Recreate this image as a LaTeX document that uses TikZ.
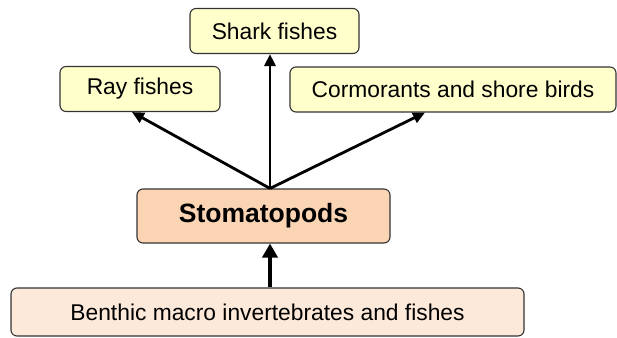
\documentclass[tikz,border=0pt]{standalone}
\usepackage{fontspec}
\setmainfont{Liberation Sans}
\usetikzlibrary{positioning, arrows.meta}

\definecolor{preyyellow}{HTML}{FFFFCC}
\definecolor{stomapeach}{HTML}{FBD4B4}
\definecolor{benthpink}{HTML}{FDE9D9}

\begin{document}
\begin{tikzpicture}[x=1pt,y=-1pt]
\tikzset{
  every node/.style={inner sep=0pt, font=\fontsize{22.8}{26}\selectfont},
  box/.style={draw=black!80, line width=1.1pt, rounded corners=6pt, minimum height=45pt},
  predbox/.style={box, fill=preyyellow},
  feed/.style={line width=2.8pt, -{Triangle[length=12pt,width=11pt]}},
  feedbig/.style={line width=4.5pt, -{Triangle[length=14pt,width=15pt]}}
}
\useasboundingbox (0,0) rectangle (617,337);
\node [predbox, minimum width=169pt] (shark) at (274.5,31) {Shark fishes};
\node [predbox, minimum width=160pt] (ray) at (140,89) {Ray fishes};
\node [predbox, minimum width=326pt] (corm) at (453,89.5) {Cormorants and shore birds};
\node [box, fill=stomapeach, minimum width=253pt, minimum height=54pt,
  font=\fontsize{26.5}{30}\selectfont\bfseries] (stoma) at (263.5,216) {Stomatopods};
\node [box, fill=benthpink, minimum width=513pt, minimum height=48pt] (benth) at (267.5,312) {Benthic macro invertebrates and fishes};
\coordinate (hub) at ([xshift=6.5pt]stoma.north);
% feeding links
\draw [feed] (hub) -- (shark.south -| hub);
\draw [feed] (hub) -- ([xshift=-8pt]ray.south);
\draw [feed] (hub) -- ([xshift=-28pt]corm.south);
\draw [feedbig] ([xshift=2.5pt]benth.north) -- (stoma.south -| hub);
\end{tikzpicture}
\end{document}
